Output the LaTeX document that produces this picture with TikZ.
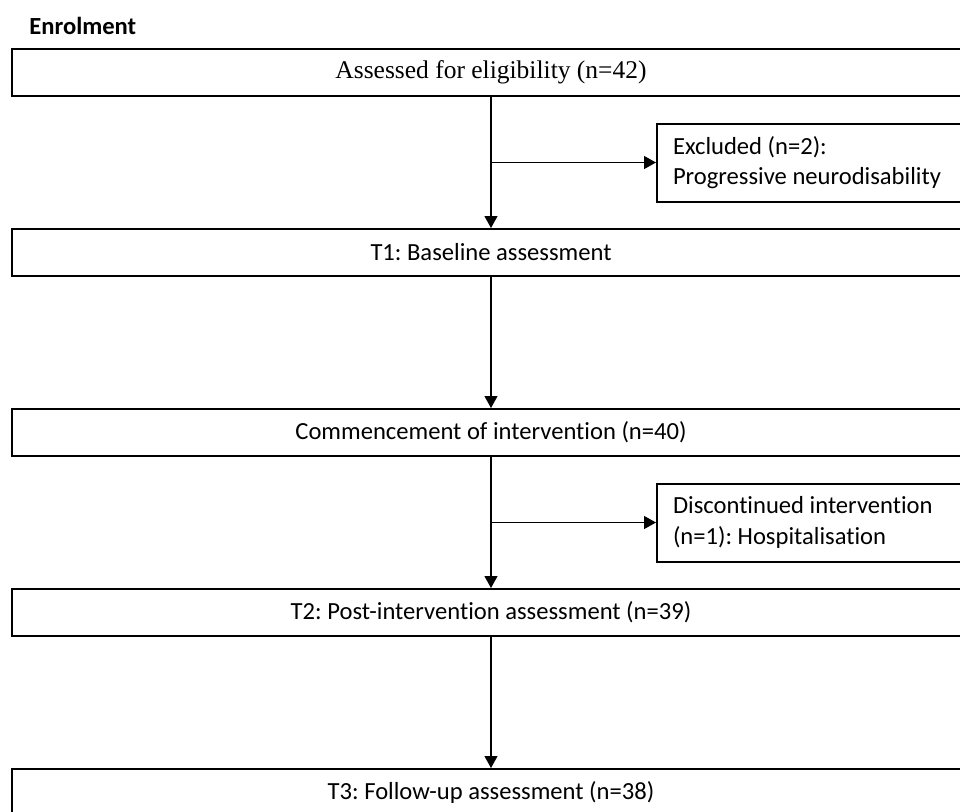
\documentclass[tikz,border=0pt]{standalone}
\usepackage{fontspec}
\setmainfont{Carlito}[Ligatures=NoCommon]
\newfontfamily\serifface{Liberation Serif}
\usetikzlibrary{arrows.meta,positioning,calc}
\frenchspacing
\tikzset{stage/.style={draw,line width=1pt,minimum width=479pt,minimum height=23.5pt,
    inner sep=0pt,font=\fontsize{12.3}{15.3}\selectfont},
  sidebox/.style={draw,line width=1pt,text width=146pt,inner xsep=8pt,inner ysep=0pt,
    minimum height=39pt,align=flush left,anchor=west,font=\fontsize{12.3}{15.3}\selectfont},
  edge/.style={-{Triangle[length=6pt,width=6.5pt]},line width=0.6pt}}

\begin{document}
\begin{tikzpicture}[x=0.5pt,y=-0.5pt]
    \clip (0,0) rectangle (960,811);
    \node[anchor=west,inner sep=0pt,font=\fontsize{12.3}{15.3}\selectfont\bfseries] (enrol) at (29,26) {Enrolment};
    \node[stage,font=\fontsize{12.75}{15.5}\selectfont\serifface] (elig) at (491,72.5) {Assessed for eligibility (n=42)};
    \node[stage,below=65.5pt of elig] (base) {T1: Baseline assessment};
    \node[stage,below=65.5pt of base] (start) {Commencement of intervention (n=40)};
    \node[stage,below=65.5pt of start] (post) {T2: Post-intervention assessment (n=39)};
    \node[stage,below=65.5pt of post] (follow) {T3: Follow-up assessment (n=38)};
    \node[sidebox] (excl) at ($(elig.south)!0.5!(base.north)+(165,0)$) {Excluded (n=2):\\Progressive neurodisability};
    \node[sidebox] (drop) at ($(start.south)!0.5!(post.north)+(165,0)$) {Discontinued intervention\\(n=1): Hospitalisation};
    \draw[edge] (elig)--(base); \draw[edge] (base)--(start);
    \draw[edge] (start)--(post); \draw[edge] (post)--(follow);
    \draw[edge] (excl.west -| elig.south)--(excl.west);
    \draw[edge] (drop.west -| start.south)--(drop.west);
  \end{tikzpicture}
\end{document}
